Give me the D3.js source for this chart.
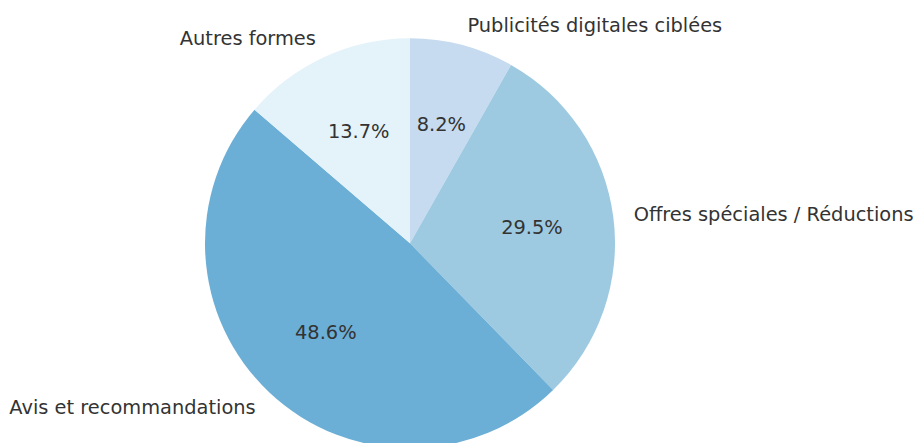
<!DOCTYPE html>
<html>
<head>
<meta charset="utf-8">
<script src="https://cdn.jsdelivr.net/npm/d3@7"></script>
<style>
  html, body { margin: 0; padding: 0; background: #ffffff; }
  svg { display: block; }
</style>
</head>
<body>
<svg id="chart" width="919" height="443"></svg>
<script>
// Share of each channel, clockwise from 12 o'clock
const categories = ["Publicités digitales ciblées", "Offres spéciales / Réductions", "Avis et recommandations", "Autres formes"];
const shares = [8.2, 29.5, 48.6, 13.7];
const colors = ["#c6dbef", "#9ecae1", "#6baed6", "#e4f2f9"];

const width = 919, height = 443;
const cx = 410, cy = 243.3, radius = 205;
const fontSize = 19.4;

const svg = d3.select("#chart");
const g = svg.append("g").attr("transform", `translate(${cx},${cy})`);

const data = categories.map((c, i) => ({ label: c, value: shares[i], color: colors[i] }));

const pie = d3.pie().value(d => d.value).sort(null).startAngle(0).endAngle(2 * Math.PI);
const arcs = pie(data);

const arc = d3.arc().innerRadius(0).outerRadius(radius);

g.selectAll("path.slice")
  .data(arcs)
  .join("path")
  .attr("class", "slice")
  .attr("d", arc)
  .attr("fill", d => d.data.color);

const mid = d => (d.startAngle + d.endAngle) / 2;

// Percent labels at 60% of the radius
g.selectAll("text.pct")
  .data(arcs)
  .join("text")
  .attr("class", "pct")
  .attr("x", d => Math.sin(mid(d)) * radius * 0.6)
  .attr("y", d => -Math.cos(mid(d)) * radius * 0.6)
  .attr("text-anchor", "middle")
  .attr("dominant-baseline", "central")
  .attr("font-family", "DejaVu Sans, sans-serif")
  .attr("font-size", fontSize)
  .attr("fill", "#333333")
  .text(d => d.data.value.toFixed(1) + "%");

// Category labels just outside the rim
g.selectAll("text.cat")
  .data(arcs)
  .join("text")
  .attr("class", "cat")
  .attr("x", d => Math.sin(mid(d)) * radius * 1.1)
  .attr("y", d => -Math.cos(mid(d)) * radius * 1.1)
  .attr("text-anchor", d => Math.sin(mid(d)) >= 0 ? "start" : "end")
  .attr("dominant-baseline", "central")
  .attr("font-family", "DejaVu Sans, sans-serif")
  .attr("font-size", fontSize)
  .attr("fill", "#333333")
  .text(d => d.data.label);
</script>
</body>
</html>
